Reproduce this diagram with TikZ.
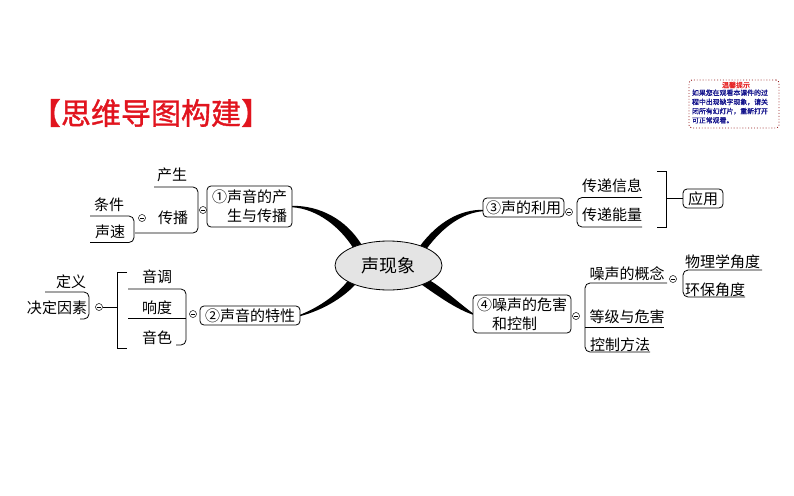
\documentclass[tikz,border=0pt]{standalone}
\usepackage{fontspec}
\setmainfont{Noto Sans CJK SC}
\newfontfamily\titlefont[FakeBold=1.2]{Noto Sans CJK SC}
\usetikzlibrary{calc,shapes.geometric}
\pgfdeclarelayer{bg}
\pgfsetlayers{bg,main}
\definecolor{titlered}{RGB}{225,20,30}
\definecolor{notered}{RGB}{230,40,40}
\definecolor{noteblue}{RGB}{20,20,140}
\definecolor{noteframe}{RGB}{150,30,30}
\definecolor{ellgray}{RGB}{228,228,228}
\begin{document}
\begin{tikzpicture}[x=1pt,y=-1pt,
  every node/.style={inner sep=0pt, outer sep=0pt},
  txt/.style={font=\fontsize{15}{19}\selectfont},
  topic/.style={txt, draw, fill=white, rounded corners=4pt, line width=0.8pt, minimum height=19pt, align=left},
  brk/.style={line width=0.8pt, rounded corners=5pt},
  sq/.style={line width=0.8pt},
  col/.style={draw, fill=white, circle, minimum size=7pt, line width=0.5pt,
    path picture={\draw[line width=0.5pt] ([xshift=1.6pt]path picture bounding box.west) -- ([xshift=-1.6pt]path picture bounding box.east);}},
  branch/.style={fill=black}
]
\useasboundingbox (0,0) rectangle (794,495);

% title
\node[font=\titlefont\fontsize{30}{32}\selectfont, text=titlered] (title) at (151,113) {【思维导图构建】};

% note box
\node[draw=noteframe, dotted, rounded corners=3pt, line width=0.9pt, minimum width=90pt, minimum height=48pt] (note) at (734,104) {};
\node[text=notered, font=\titlefont\fontsize{7}{8}\selectfont] (notet) at (736,85) {温馨提示};
\node[text=noteblue, font=\titlefont\fontsize{6.9}{9.2}\selectfont, align=left, anchor=north west] (noteb) at (692,89.5) {如果您在观看本课件的过\\程中出现缺字现象，请关\\闭所有幻灯片，重新打开\\可正常观看。};

% central topic
\node[ellipse, draw, fill=ellgray, line width=0.8pt, minimum width=107pt, minimum height=49pt, font=\fontsize{18}{20}\selectfont] (c) at (388.5,265.5) {声现象};

% main topics
\node[topic, minimum width=85pt, minimum height=41pt] (n1) at (249.5,206.5) {①声音的产\\\phantom{①}生与传播};
\node[topic, minimum width=100pt] (n2) at (250,315.5) {②声音的特性};
\node[topic, minimum width=81pt] (n3) at (523.5,207.5) {③声的利用};
\node[topic, minimum width=98pt, minimum height=38pt] (n4) at (522,314) {④噪声的危害\\\phantom{④}和控制};
\node[topic, minimum width=40pt] (app) at (703,198.5) {应用};

% tapered branches
\begin{pgfonlayer}{bg}
\fill[branch] ($(n1.east)+(0,-0.7)$) .. controls (320,205.5) and (346,219.5) .. (c.142)
  -- (c.153) .. controls (340,227.5) and (318,209) .. ($(n1.east)+(0,0.7)$) -- cycle;
\fill[branch] ($(n2.east)+(0,-0.7)$) .. controls (322,306) and (338,293) .. (c.201)
  -- (c.210) .. controls (342,298.5) and (323,310) .. ($(n2.east)+(0,0.7)$) -- cycle;
\fill[branch] ($(n3.west)+(0,2.3)$) .. controls (460,209.5) and (438,222) .. (c.32)
  -- (c.24) .. controls (443,227) and (462,213) .. ($(n3.west)+(0,3.7)$) -- cycle;
\fill[branch] ($(n4.west)+(0,-0.7)$) .. controls (460,304) and (444,289) .. (c.340)
  -- (c.330) .. controls (438,296) and (456,309) .. ($(n4.west)+(0,0.7)$) -- cycle;
\end{pgfonlayer}

% ---- group 1 ----
\node[txt] (cs) at (172,175) {产生};
\node[txt] (cb) at (173,218) {传播};
\node[col] (k1) at (203,210) {};
\coordinate (a1) at (154,187);
\coordinate (a2) at (198,187);
\coordinate (a3) at (198,233);
\coordinate (a4) at (135,233);
\draw[brk] (a1) -- (a2) -- (a3) -- (a4);

\node[txt] (tj) at (109,205) {条件};
\node[txt] (sus) at (110,232) {声速};
\node[col] (k1b) at (142,218) {};
\coordinate (b1) at (90,216);
\coordinate (b2) at (134,216);
\coordinate (b3) at (134,242.5);
\coordinate (b4) at (90,242.5);
\draw[brk] (b1) -- (b2) -- (b3) -- (b4);

% ---- group 2 ----
\node[txt] (yd) at (157,277) {音调};
\node[txt] (xd) at (157,308) {响度};
\node[txt] (ys) at (157,338) {音色};
\node[col] (k2) at (193,314) {};
\coordinate (d1) at (128,289);
\coordinate (d2) at (186,289);
\coordinate (d3) at (186,345);
\coordinate (d4) at (176,345);
\draw[brk] (d1) -- (d2) -- (d3) -- (d4);
\coordinate (d5) at (128,318);
\coordinate (d6) at (186,318);
\draw[sq] (d5) -- (d6);
\coordinate (e1) at (127,272);
\coordinate (e2) at (117,272);
\coordinate (e3) at (117,348);
\coordinate (e4) at (127,348);
\draw[sq] (e1) -- (e2) -- (e3) -- (e4);
\coordinate (e5) at (117,307);

\node[txt] (dy) at (71,282) {定义};
\node[txt] (jd) at (57,308) {决定因素};
\node[col] (k2b) at (99,307) {};
\draw[sq] (k2b) -- (e5);
\coordinate (f1) at (45,292);
\coordinate (f2) at (89,292);
\coordinate (f3) at (89,319);
\coordinate (f4) at (80,319);
\draw[brk] (f1) -- (f2) -- (f3) -- (f4);

% ---- group 3 ----
\node[txt] (cx) at (612,186) {传递信息};
\node[txt] (cn) at (612,215) {传递能量};
\node[col] (k3) at (569,212) {};
\coordinate (g1) at (642,197.5);
\coordinate (g2) at (577,197.5);
\coordinate (g3) at (577,227);
\coordinate (g4) at (642,227);
\draw[brk] (g1) -- (g2) -- (g3) -- (g4);
\coordinate (h1) at (657,171);
\coordinate (h2) at (666,171);
\coordinate (h3) at (666,227);
\coordinate (h4) at (657,227);
\draw[sq] (h1) -- (h2) -- (h3) -- (h4);
\coordinate (h5) at (666,198.5);
\draw[sq] (h5) -- (app.west);

% ---- group 4 ----
\node[txt] (zg) at (627,274) {噪声的概念};
\node[txt] (dj) at (627,317) {等级与危害};
\node[txt] (kz) at (620,345) {控制方法};
\node[col] (k4) at (576,316) {};
\coordinate (m1) at (667,283);
\coordinate (m2) at (585,283);
\coordinate (m3) at (585,352);
\coordinate (m4) at (650,352);
\draw[brk] (m1) -- (m2) -- (m3) -- (m4);
\coordinate (m5) at (585,327);
\coordinate (m6) at (664,327);
\draw[sq] (m5) -- (m6);

\node[txt] (wl) at (722.5,262) {物理学角度};
\node[txt] (hb) at (715,290) {环保角度};
\node[col] (k4b) at (673,279) {};
\coordinate (p1) at (762,270);
\coordinate (p2) at (683,270);
\coordinate (p3) at (683,297);
\coordinate (p4) at (745,297);
\draw[brk] (p1) -- (p2) -- (p3) -- (p4);
\end{tikzpicture}
\end{document}
